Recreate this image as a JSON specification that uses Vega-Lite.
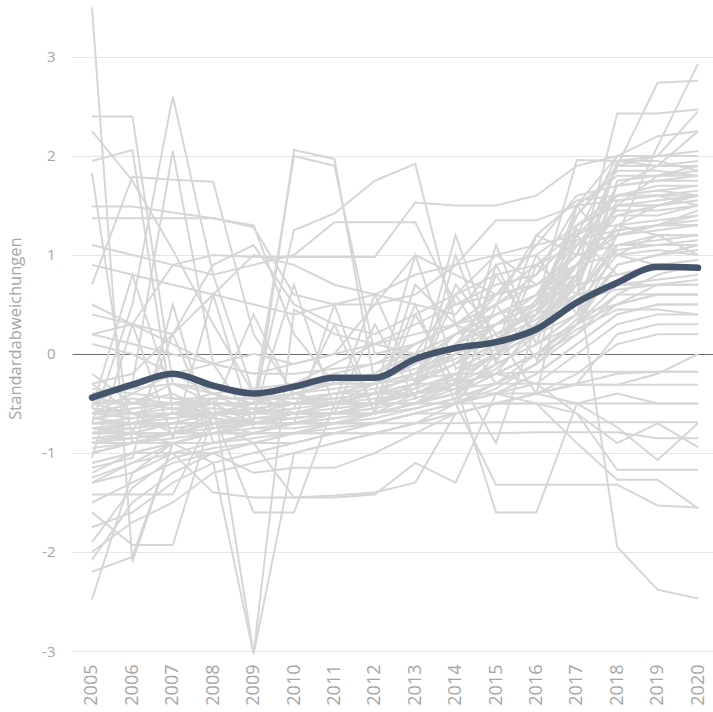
{
  "$schema": "https://vega.github.io/schema/vega-lite/v6.json",
  "width": 641,
  "height": 646,
  "autosize": {"type": "none"},
  "padding": {"left": 72, "top": 5, "right": 0, "bottom": 61},
  "background": "white",
  "config": {"view": {"stroke": null}, "font": "Open Sans"},
  "datasets": {
    "reihen": [
{"s":1,"t":2005,"v":3.5},{"s":1,"t":2006,"v":-2.1},{"s":1,"t":2007,"v":-0.9},{"s":1,"t":2008,"v":-0.8},{"s":1,"t":2009,"v":-0.7},{"s":1,"t":2010,"v":-0.6},{"s":1,"t":2011,"v":-0.5},{"s":1,"t":2012,"v":-0.5},{"s":1,"t":2013,"v":-0.3},{"s":1,"t":2014,"v":-0.1},{"s":1,"t":2015,"v":0.1},{"s":1,"t":2016,"v":0.3},{"s":1,"t":2017,"v":0.9},{"s":1,"t":2018,"v":1.5},{"s":1,"t":2019,"v":1.8},{"s":1,"t":2020,"v":1.9},
{"s":2,"t":2005,"v":2.4},{"s":2,"t":2006,"v":2.4},{"s":2,"t":2007,"v":-0.3},{"s":2,"t":2008,"v":-0.5},{"s":2,"t":2009,"v":-0.7},{"s":2,"t":2010,"v":-0.6},{"s":2,"t":2011,"v":-0.6},{"s":2,"t":2012,"v":-0.5},{"s":2,"t":2013,"v":-0.4},{"s":2,"t":2014,"v":-0.2},{"s":2,"t":2015,"v":0},{"s":2,"t":2016,"v":0.2},{"s":2,"t":2017,"v":0.6},{"s":2,"t":2018,"v":1.2},{"s":2,"t":2019,"v":1.3},{"s":2,"t":2020,"v":1.4},
{"s":3,"t":2005,"v":2.25},{"s":3,"t":2006,"v":1.75},{"s":3,"t":2007,"v":1.05},{"s":3,"t":2008,"v":0.3},{"s":3,"t":2009,"v":-0.4},{"s":3,"t":2010,"v":-0.5},{"s":3,"t":2011,"v":-0.5},{"s":3,"t":2012,"v":-0.4},{"s":3,"t":2013,"v":-0.2},{"s":3,"t":2014,"v":0},{"s":3,"t":2015,"v":0.3},{"s":3,"t":2016,"v":0.4},{"s":3,"t":2017,"v":1.1},{"s":3,"t":2018,"v":1.6},{"s":3,"t":2019,"v":1.6},{"s":3,"t":2020,"v":1.5},
{"s":4,"t":2005,"v":1.95},{"s":4,"t":2006,"v":2.06},{"s":4,"t":2007,"v":-0.6},{"s":4,"t":2008,"v":-0.7},{"s":4,"t":2009,"v":-0.8},{"s":4,"t":2010,"v":-0.7},{"s":4,"t":2011,"v":-0.6},{"s":4,"t":2012,"v":-0.6},{"s":4,"t":2013,"v":-0.5},{"s":4,"t":2014,"v":-0.4},{"s":4,"t":2015,"v":-0.1},{"s":4,"t":2016,"v":0.1},{"s":4,"t":2017,"v":0.3},{"s":4,"t":2018,"v":0.9},{"s":4,"t":2019,"v":1},{"s":4,"t":2020,"v":1.1},
{"s":5,"t":2005,"v":1.83},{"s":5,"t":2006,"v":-0.9},{"s":5,"t":2007,"v":-0.8},{"s":5,"t":2008,"v":-0.7},{"s":5,"t":2009,"v":-0.7},{"s":5,"t":2010,"v":-0.6},{"s":5,"t":2011,"v":-0.5},{"s":5,"t":2012,"v":-0.5},{"s":5,"t":2013,"v":-0.4},{"s":5,"t":2014,"v":-0.3},{"s":5,"t":2015,"v":0},{"s":5,"t":2016,"v":0.2},{"s":5,"t":2017,"v":0.4},{"s":5,"t":2018,"v":0.5},{"s":5,"t":2019,"v":0.6},{"s":5,"t":2020,"v":0.6},
{"s":6,"t":2005,"v":1.49},{"s":6,"t":2006,"v":1.49},{"s":6,"t":2007,"v":1.43},{"s":6,"t":2008,"v":1.37},{"s":6,"t":2009,"v":1.3},{"s":6,"t":2010,"v":0.2},{"s":6,"t":2011,"v":-0.3},{"s":6,"t":2012,"v":-0.2},{"s":6,"t":2013,"v":0.1},{"s":6,"t":2014,"v":0.3},{"s":6,"t":2015,"v":0.4},{"s":6,"t":2016,"v":0.5},{"s":6,"t":2017,"v":1.4},{"s":6,"t":2018,"v":1.9},{"s":6,"t":2019,"v":1.9},{"s":6,"t":2020,"v":1.9},
{"s":7,"t":2005,"v":1.37},{"s":7,"t":2006,"v":1.37},{"s":7,"t":2007,"v":1.37},{"s":7,"t":2008,"v":1.37},{"s":7,"t":2009,"v":1.28},{"s":7,"t":2010,"v":0.6},{"s":7,"t":2011,"v":0.5},{"s":7,"t":2012,"v":0.6},{"s":7,"t":2013,"v":0.8},{"s":7,"t":2014,"v":0.9},{"s":7,"t":2015,"v":1},{"s":7,"t":2016,"v":1.1},{"s":7,"t":2017,"v":1.2},{"s":7,"t":2018,"v":1.6},{"s":7,"t":2019,"v":1.7},{"s":7,"t":2020,"v":1.7},
{"s":8,"t":2005,"v":-0.7},{"s":8,"t":2006,"v":0.5},{"s":8,"t":2007,"v":2.6},{"s":8,"t":2008,"v":0.8},{"s":8,"t":2009,"v":-0.4},{"s":8,"t":2010,"v":-0.6},{"s":8,"t":2011,"v":-0.5},{"s":8,"t":2012,"v":-0.4},{"s":8,"t":2013,"v":-0.3},{"s":8,"t":2014,"v":-0.1},{"s":8,"t":2015,"v":0.3},{"s":8,"t":2016,"v":0.5},{"s":8,"t":2017,"v":0.9},{"s":8,"t":2018,"v":1.2},{"s":8,"t":2019,"v":1.3},{"s":8,"t":2020,"v":1.3},
{"s":9,"t":2005,"v":-0.5},{"s":9,"t":2006,"v":-0.3},{"s":9,"t":2007,"v":2.05},{"s":9,"t":2008,"v":-0.1},{"s":9,"t":2009,"v":-0.7},{"s":9,"t":2010,"v":-0.6},{"s":9,"t":2011,"v":-0.5},{"s":9,"t":2012,"v":-0.5},{"s":9,"t":2013,"v":-0.3},{"s":9,"t":2014,"v":0.1},{"s":9,"t":2015,"v":0.6},{"s":9,"t":2016,"v":0.7},{"s":9,"t":2017,"v":1},{"s":9,"t":2018,"v":1.9},{"s":9,"t":2019,"v":2},{"s":9,"t":2020,"v":2},
{"s":10,"t":2005,"v":0.7},{"s":10,"t":2006,"v":1.79},{"s":10,"t":2007,"v":1.76},{"s":10,"t":2008,"v":1.74},{"s":10,"t":2009,"v":0.2},{"s":10,"t":2010,"v":-0.4},{"s":10,"t":2011,"v":-0.5},{"s":10,"t":2012,"v":-0.4},{"s":10,"t":2013,"v":-0.2},{"s":10,"t":2014,"v":0.2},{"s":10,"t":2015,"v":0.4},{"s":10,"t":2016,"v":0.6},{"s":10,"t":2017,"v":1.2},{"s":10,"t":2018,"v":1.4},{"s":10,"t":2019,"v":1.4},{"s":10,"t":2020,"v":1.5},
{"s":11,"t":2005,"v":-0.8},{"s":11,"t":2006,"v":-0.7},{"s":11,"t":2007,"v":-0.6},{"s":11,"t":2008,"v":-0.5},{"s":11,"t":2009,"v":-0.7},{"s":11,"t":2010,"v":2.06},{"s":11,"t":2011,"v":1.97},{"s":11,"t":2012,"v":-0.3},{"s":11,"t":2013,"v":-0.2},{"s":11,"t":2014,"v":0},{"s":11,"t":2015,"v":0.2},{"s":11,"t":2016,"v":0.4},{"s":11,"t":2017,"v":0.8},{"s":11,"t":2018,"v":1.3},{"s":11,"t":2019,"v":1.5},{"s":11,"t":2020,"v":1.6},
{"s":12,"t":2005,"v":-0.6},{"s":12,"t":2006,"v":-0.5},{"s":12,"t":2007,"v":-0.4},{"s":12,"t":2008,"v":-0.6},{"s":12,"t":2009,"v":-0.5},{"s":12,"t":2010,"v":2},{"s":12,"t":2011,"v":1.9},{"s":12,"t":2012,"v":0},{"s":12,"t":2013,"v":0.1},{"s":12,"t":2014,"v":0.3},{"s":12,"t":2015,"v":0.5},{"s":12,"t":2016,"v":0.7},{"s":12,"t":2017,"v":1},{"s":12,"t":2018,"v":1.9},{"s":12,"t":2019,"v":1.9},{"s":12,"t":2020,"v":2.25},
{"s":13,"t":2005,"v":-0.6},{"s":13,"t":2006,"v":-0.5},{"s":13,"t":2007,"v":-0.5},{"s":13,"t":2008,"v":-0.6},{"s":13,"t":2009,"v":-0.5},{"s":13,"t":2010,"v":1.25},{"s":13,"t":2011,"v":1.42},{"s":13,"t":2012,"v":1.75},{"s":13,"t":2013,"v":1.92},{"s":13,"t":2014,"v":0.3},{"s":13,"t":2015,"v":0.1},{"s":13,"t":2016,"v":0.5},{"s":13,"t":2017,"v":1.3},{"s":13,"t":2018,"v":1.5},{"s":13,"t":2019,"v":1.5},{"s":13,"t":2020,"v":1.6},
{"s":14,"t":2005,"v":1.1},{"s":14,"t":2006,"v":1},{"s":14,"t":2007,"v":0.9},{"s":14,"t":2008,"v":0.8},{"s":14,"t":2009,"v":0.9},{"s":14,"t":2010,"v":1},{"s":14,"t":2011,"v":1.33},{"s":14,"t":2012,"v":1.33},{"s":14,"t":2013,"v":1.33},{"s":14,"t":2014,"v":0.5},{"s":14,"t":2015,"v":0.7},{"s":14,"t":2016,"v":0.8},{"s":14,"t":2017,"v":1.5},{"s":14,"t":2018,"v":1.8},{"s":14,"t":2019,"v":1.8},{"s":14,"t":2020,"v":1.8},
{"s":15,"t":2005,"v":0.2},{"s":15,"t":2006,"v":0.3},{"s":15,"t":2007,"v":0.9},{"s":15,"t":2008,"v":1},{"s":15,"t":2009,"v":0.98},{"s":15,"t":2010,"v":0.98},{"s":15,"t":2011,"v":0.98},{"s":15,"t":2012,"v":0.98},{"s":15,"t":2013,"v":1.53},{"s":15,"t":2014,"v":1.5},{"s":15,"t":2015,"v":1.5},{"s":15,"t":2016,"v":1.6},{"s":15,"t":2017,"v":1.9},{"s":15,"t":2018,"v":2},{"s":15,"t":2019,"v":2},{"s":15,"t":2020,"v":2},
{"s":16,"t":2005,"v":0.9},{"s":16,"t":2006,"v":0.8},{"s":16,"t":2007,"v":0.7},{"s":16,"t":2008,"v":0.6},{"s":16,"t":2009,"v":0.5},{"s":16,"t":2010,"v":0.4},{"s":16,"t":2011,"v":0.5},{"s":16,"t":2012,"v":0.5},{"s":16,"t":2013,"v":0.6},{"s":16,"t":2014,"v":0.9},{"s":16,"t":2015,"v":1.35},{"s":16,"t":2016,"v":1.35},{"s":16,"t":2017,"v":1.5},{"s":16,"t":2018,"v":1.55},{"s":16,"t":2019,"v":1.6},{"s":16,"t":2020,"v":1.6},
{"s":17,"t":2005,"v":-0.9},{"s":17,"t":2006,"v":-0.8},{"s":17,"t":2007,"v":-0.8},{"s":17,"t":2008,"v":-0.7},{"s":17,"t":2009,"v":-0.7},{"s":17,"t":2010,"v":-0.6},{"s":17,"t":2011,"v":-0.5},{"s":17,"t":2012,"v":-0.4},{"s":17,"t":2013,"v":-0.2},{"s":17,"t":2014,"v":0},{"s":17,"t":2015,"v":0.2},{"s":17,"t":2016,"v":0.4},{"s":17,"t":2017,"v":0.9},{"s":17,"t":2018,"v":1.2},{"s":17,"t":2019,"v":2.1},{"s":17,"t":2020,"v":2.93},
{"s":18,"t":2005,"v":-1},{"s":18,"t":2006,"v":-0.9},{"s":18,"t":2007,"v":-0.8},{"s":18,"t":2008,"v":-0.8},{"s":18,"t":2009,"v":-0.7},{"s":18,"t":2010,"v":-0.6},{"s":18,"t":2011,"v":-0.6},{"s":18,"t":2012,"v":-0.5},{"s":18,"t":2013,"v":-0.3},{"s":18,"t":2014,"v":0.1},{"s":18,"t":2015,"v":0.4},{"s":18,"t":2016,"v":0.6},{"s":18,"t":2017,"v":1},{"s":18,"t":2018,"v":1.9},{"s":18,"t":2019,"v":2.74},{"s":18,"t":2020,"v":2.76},
{"s":19,"t":2005,"v":-0.8},{"s":19,"t":2006,"v":-0.7},{"s":19,"t":2007,"v":-0.7},{"s":19,"t":2008,"v":-0.6},{"s":19,"t":2009,"v":-0.6},{"s":19,"t":2010,"v":-0.5},{"s":19,"t":2011,"v":-0.5},{"s":19,"t":2012,"v":-0.4},{"s":19,"t":2013,"v":-0.2},{"s":19,"t":2014,"v":0.1},{"s":19,"t":2015,"v":0.3},{"s":19,"t":2016,"v":0.6},{"s":19,"t":2017,"v":0.8},{"s":19,"t":2018,"v":2.43},{"s":19,"t":2019,"v":2.43},{"s":19,"t":2020,"v":2.47},
{"s":20,"t":2005,"v":-1.2},{"s":20,"t":2006,"v":-1},{"s":20,"t":2007,"v":-0.9},{"s":20,"t":2008,"v":-0.9},{"s":20,"t":2009,"v":-0.8},{"s":20,"t":2010,"v":-0.7},{"s":20,"t":2011,"v":-0.6},{"s":20,"t":2012,"v":-0.5},{"s":20,"t":2013,"v":-0.3},{"s":20,"t":2014,"v":0},{"s":20,"t":2015,"v":0.3},{"s":20,"t":2016,"v":0.5},{"s":20,"t":2017,"v":1.96},{"s":20,"t":2018,"v":1.95},{"s":20,"t":2019,"v":1.9},{"s":20,"t":2020,"v":1.9},
{"s":21,"t":2005,"v":-0.7},{"s":21,"t":2006,"v":-0.7},{"s":21,"t":2007,"v":-0.6},{"s":21,"t":2008,"v":-0.6},{"s":21,"t":2009,"v":-0.5},{"s":21,"t":2010,"v":-0.5},{"s":21,"t":2011,"v":-0.4},{"s":21,"t":2012,"v":-0.3},{"s":21,"t":2013,"v":-0.1},{"s":21,"t":2014,"v":0.2},{"s":21,"t":2015,"v":0.5},{"s":21,"t":2016,"v":0.8},{"s":21,"t":2017,"v":1.2},{"s":21,"t":2018,"v":2},{"s":21,"t":2019,"v":2},{"s":21,"t":2020,"v":2.45},
{"s":22,"t":2005,"v":-1.3},{"s":22,"t":2006,"v":-1.1},{"s":22,"t":2007,"v":-0.9},{"s":22,"t":2008,"v":-0.9},{"s":22,"t":2009,"v":-0.8},{"s":22,"t":2010,"v":-0.8},{"s":22,"t":2011,"v":-0.7},{"s":22,"t":2012,"v":-0.6},{"s":22,"t":2013,"v":-0.5},{"s":22,"t":2014,"v":-0.2},{"s":22,"t":2015,"v":0},{"s":22,"t":2016,"v":0.4},{"s":22,"t":2017,"v":1.5},{"s":22,"t":2018,"v":2},{"s":22,"t":2019,"v":2.2},{"s":22,"t":2020,"v":2.25},
{"s":23,"t":2005,"v":-0.9},{"s":23,"t":2006,"v":-0.9},{"s":23,"t":2007,"v":-0.8},{"s":23,"t":2008,"v":-0.7},{"s":23,"t":2009,"v":-0.6},{"s":23,"t":2010,"v":-0.6},{"s":23,"t":2011,"v":-0.5},{"s":23,"t":2012,"v":-0.4},{"s":23,"t":2013,"v":-0.4},{"s":23,"t":2014,"v":-0.2},{"s":23,"t":2015,"v":0.1},{"s":23,"t":2016,"v":0.2},{"s":23,"t":2017,"v":0.6},{"s":23,"t":2018,"v":1.95},{"s":23,"t":2019,"v":1.95},{"s":23,"t":2020,"v":1.85},
{"s":24,"t":2005,"v":-1.1},{"s":24,"t":2006,"v":-1},{"s":24,"t":2007,"v":-1},{"s":24,"t":2008,"v":-0.9},{"s":24,"t":2009,"v":-0.8},{"s":24,"t":2010,"v":-0.7},{"s":24,"t":2011,"v":-0.7},{"s":24,"t":2012,"v":-0.6},{"s":24,"t":2013,"v":-0.4},{"s":24,"t":2014,"v":-0.3},{"s":24,"t":2015,"v":0},{"s":24,"t":2016,"v":0.3},{"s":24,"t":2017,"v":0.7},{"s":24,"t":2018,"v":1.7},{"s":24,"t":2019,"v":1.75},{"s":24,"t":2020,"v":1.75},
{"s":25,"t":2005,"v":-0.5},{"s":25,"t":2006,"v":-0.6},{"s":25,"t":2007,"v":-0.6},{"s":25,"t":2008,"v":-0.5},{"s":25,"t":2009,"v":-0.5},{"s":25,"t":2010,"v":-0.4},{"s":25,"t":2011,"v":-0.3},{"s":25,"t":2012,"v":-0.3},{"s":25,"t":2013,"v":-0.1},{"s":25,"t":2014,"v":0.1},{"s":25,"t":2015,"v":0.3},{"s":25,"t":2016,"v":0.5},{"s":25,"t":2017,"v":1.1},{"s":25,"t":2018,"v":1.45},{"s":25,"t":2019,"v":1.45},{"s":25,"t":2020,"v":1.5},
{"s":26,"t":2005,"v":-1.5},{"s":26,"t":2006,"v":-1.3},{"s":26,"t":2007,"v":-1.1},{"s":26,"t":2008,"v":-1},{"s":26,"t":2009,"v":-0.9},{"s":26,"t":2010,"v":-0.8},{"s":26,"t":2011,"v":-0.7},{"s":26,"t":2012,"v":-0.6},{"s":26,"t":2013,"v":-0.5},{"s":26,"t":2014,"v":-0.3},{"s":26,"t":2015,"v":0},{"s":26,"t":2016,"v":0.2},{"s":26,"t":2017,"v":0.5},{"s":26,"t":2018,"v":1},{"s":26,"t":2019,"v":1.2},{"s":26,"t":2020,"v":1.2},
{"s":27,"t":2005,"v":-2.48},{"s":27,"t":2006,"v":-1.2},{"s":27,"t":2007,"v":-0.9},{"s":27,"t":2008,"v":-0.8},{"s":27,"t":2009,"v":-0.8},{"s":27,"t":2010,"v":-0.7},{"s":27,"t":2011,"v":-0.7},{"s":27,"t":2012,"v":-0.6},{"s":27,"t":2013,"v":-0.5},{"s":27,"t":2014,"v":-0.4},{"s":27,"t":2015,"v":-0.2},{"s":27,"t":2016,"v":0},{"s":27,"t":2017,"v":0.3},{"s":27,"t":2018,"v":0.5},{"s":27,"t":2019,"v":0.7},{"s":27,"t":2020,"v":0.7},
{"s":28,"t":2005,"v":-2.2},{"s":28,"t":2006,"v":-2.05},{"s":28,"t":2007,"v":-0.9},{"s":28,"t":2008,"v":-0.8},{"s":28,"t":2009,"v":-0.7},{"s":28,"t":2010,"v":-0.7},{"s":28,"t":2011,"v":-0.6},{"s":28,"t":2012,"v":-0.6},{"s":28,"t":2013,"v":-0.5},{"s":28,"t":2014,"v":-0.3},{"s":28,"t":2015,"v":-0.1},{"s":28,"t":2016,"v":0.1},{"s":28,"t":2017,"v":0.4},{"s":28,"t":2018,"v":0.9},{"s":28,"t":2019,"v":1},{"s":28,"t":2020,"v":1.1},
{"s":29,"t":2005,"v":-1.6},{"s":29,"t":2006,"v":-1.93},{"s":29,"t":2007,"v":-1.93},{"s":29,"t":2008,"v":-0.6},{"s":29,"t":2009,"v":-0.7},{"s":29,"t":2010,"v":-0.7},{"s":29,"t":2011,"v":-0.6},{"s":29,"t":2012,"v":-0.5},{"s":29,"t":2013,"v":-0.4},{"s":29,"t":2014,"v":-0.3},{"s":29,"t":2015,"v":-0.2},{"s":29,"t":2016,"v":0},{"s":29,"t":2017,"v":0.2},{"s":29,"t":2018,"v":0.5},{"s":29,"t":2019,"v":0.6},{"s":29,"t":2020,"v":0.6},
{"s":30,"t":2005,"v":-2.08},{"s":30,"t":2006,"v":-1.5},{"s":30,"t":2007,"v":-1.2},{"s":30,"t":2008,"v":-1},{"s":30,"t":2009,"v":-0.9},{"s":30,"t":2010,"v":-0.9},{"s":30,"t":2011,"v":-0.8},{"s":30,"t":2012,"v":-0.7},{"s":30,"t":2013,"v":-0.6},{"s":30,"t":2014,"v":-0.5},{"s":30,"t":2015,"v":-0.3},{"s":30,"t":2016,"v":-0.1},{"s":30,"t":2017,"v":0.2},{"s":30,"t":2018,"v":0.6},{"s":30,"t":2019,"v":0.8},{"s":30,"t":2020,"v":0.9},
{"s":31,"t":2005,"v":-1.9},{"s":31,"t":2006,"v":-1.35},{"s":31,"t":2007,"v":-1.05},{"s":31,"t":2008,"v":-0.95},{"s":31,"t":2009,"v":-0.9},{"s":31,"t":2010,"v":-0.8},{"s":31,"t":2011,"v":-0.8},{"s":31,"t":2012,"v":-0.7},{"s":31,"t":2013,"v":-0.6},{"s":31,"t":2014,"v":-0.5},{"s":31,"t":2015,"v":-0.4},{"s":31,"t":2016,"v":-0.2},{"s":31,"t":2017,"v":0.1},{"s":31,"t":2018,"v":0.4},{"s":31,"t":2019,"v":0.5},{"s":31,"t":2020,"v":0.5},
{"s":32,"t":2005,"v":-1.42},{"s":32,"t":2006,"v":-1.42},{"s":32,"t":2007,"v":-1.42},{"s":32,"t":2008,"v":-0.6},{"s":32,"t":2009,"v":-0.7},{"s":32,"t":2010,"v":-0.6},{"s":32,"t":2011,"v":-0.6},{"s":32,"t":2012,"v":-0.5},{"s":32,"t":2013,"v":-0.4},{"s":32,"t":2014,"v":-0.3},{"s":32,"t":2015,"v":-0.2},{"s":32,"t":2016,"v":0},{"s":32,"t":2017,"v":0.3},{"s":32,"t":2018,"v":0.7},{"s":32,"t":2019,"v":0.7},{"s":32,"t":2020,"v":0.7},
{"s":33,"t":2005,"v":-1.75},{"s":33,"t":2006,"v":-1.6},{"s":33,"t":2007,"v":-1.3},{"s":33,"t":2008,"v":-1.1},{"s":33,"t":2009,"v":-1},{"s":33,"t":2010,"v":-0.9},{"s":33,"t":2011,"v":-0.8},{"s":33,"t":2012,"v":-0.8},{"s":33,"t":2013,"v":-0.7},{"s":33,"t":2014,"v":-0.5},{"s":33,"t":2015,"v":-0.4},{"s":33,"t":2016,"v":-0.3},{"s":33,"t":2017,"v":0},{"s":33,"t":2018,"v":0.3},{"s":33,"t":2019,"v":0.4},{"s":33,"t":2020,"v":0.4},
{"s":34,"t":2005,"v":-1.25},{"s":34,"t":2006,"v":-1.1},{"s":34,"t":2007,"v":-1},{"s":34,"t":2008,"v":-1},{"s":34,"t":2009,"v":-1.2},{"s":34,"t":2010,"v":-1.15},{"s":34,"t":2011,"v":-1.15},{"s":34,"t":2012,"v":-1},{"s":34,"t":2013,"v":-0.8},{"s":34,"t":2014,"v":-0.6},{"s":34,"t":2015,"v":-0.5},{"s":34,"t":2016,"v":-0.4},{"s":34,"t":2017,"v":-0.3},{"s":34,"t":2018,"v":-0.2},{"s":34,"t":2019,"v":-0.18},{"s":34,"t":2020,"v":-0.18},
{"s":35,"t":2005,"v":-1.3},{"s":35,"t":2006,"v":-1.2},{"s":35,"t":2007,"v":-1},{"s":35,"t":2008,"v":-1.4},{"s":35,"t":2009,"v":-1.45},{"s":35,"t":2010,"v":-1.45},{"s":35,"t":2011,"v":-1.43},{"s":35,"t":2012,"v":-1.4},{"s":35,"t":2013,"v":-1.3},{"s":35,"t":2014,"v":-0.6},{"s":35,"t":2015,"v":-0.5},{"s":35,"t":2016,"v":-0.4},{"s":35,"t":2017,"v":-0.2},{"s":35,"t":2018,"v":0.1},{"s":35,"t":2019,"v":0.2},{"s":35,"t":2020,"v":0.2},
{"s":36,"t":2005,"v":-2},{"s":36,"t":2006,"v":-1.7},{"s":36,"t":2007,"v":-1.5},{"s":36,"t":2008,"v":-1.2},{"s":36,"t":2009,"v":-1.1},{"s":36,"t":2010,"v":-1},{"s":36,"t":2011,"v":-0.9},{"s":36,"t":2012,"v":-0.8},{"s":36,"t":2013,"v":-0.7},{"s":36,"t":2014,"v":-0.6},{"s":36,"t":2015,"v":-0.5},{"s":36,"t":2016,"v":-0.4},{"s":36,"t":2017,"v":-0.31},{"s":36,"t":2018,"v":-0.31},{"s":36,"t":2019,"v":-0.31},{"s":36,"t":2020,"v":-0.31},
{"s":37,"t":2005,"v":-0.8},{"s":37,"t":2006,"v":-0.7},{"s":37,"t":2007,"v":-0.6},{"s":37,"t":2008,"v":-0.45},{"s":37,"t":2009,"v":-3.03},{"s":37,"t":2010,"v":-1},{"s":37,"t":2011,"v":-0.9},{"s":37,"t":2012,"v":-0.8},{"s":37,"t":2013,"v":-0.7},{"s":37,"t":2014,"v":-0.6},{"s":37,"t":2015,"v":-0.5},{"s":37,"t":2016,"v":-0.4},{"s":37,"t":2017,"v":-0.3},{"s":37,"t":2018,"v":0.2},{"s":37,"t":2019,"v":0.3},{"s":37,"t":2020,"v":0.3},
{"s":38,"t":2005,"v":-0.9},{"s":38,"t":2006,"v":-0.8},{"s":38,"t":2007,"v":-0.9},{"s":38,"t":2008,"v":-1.1},{"s":38,"t":2009,"v":-3.03},{"s":38,"t":2010,"v":0.45},{"s":38,"t":2011,"v":0.2},{"s":38,"t":2012,"v":0.1},{"s":38,"t":2013,"v":0},{"s":38,"t":2014,"v":0.2},{"s":38,"t":2015,"v":0.3},{"s":38,"t":2016,"v":0.4},{"s":38,"t":2017,"v":0.6},{"s":38,"t":2018,"v":1.1},{"s":38,"t":2019,"v":1.2},{"s":38,"t":2020,"v":1.2},
{"s":39,"t":2005,"v":-1},{"s":39,"t":2006,"v":-0.9},{"s":39,"t":2007,"v":-0.8},{"s":39,"t":2008,"v":-0.6},{"s":39,"t":2009,"v":-1.6},{"s":39,"t":2010,"v":-1.6},{"s":39,"t":2011,"v":-0.5},{"s":39,"t":2012,"v":-0.5},{"s":39,"t":2013,"v":-0.4},{"s":39,"t":2014,"v":-0.3},{"s":39,"t":2015,"v":-0.2},{"s":39,"t":2016,"v":0},{"s":39,"t":2017,"v":0.3},{"s":39,"t":2018,"v":0.6},{"s":39,"t":2019,"v":0.6},{"s":39,"t":2020,"v":0.6},
{"s":40,"t":2005,"v":-0.9},{"s":40,"t":2006,"v":-0.8},{"s":40,"t":2007,"v":-0.8},{"s":40,"t":2008,"v":-0.7},{"s":40,"t":2009,"v":-0.9},{"s":40,"t":2010,"v":-1.45},{"s":40,"t":2011,"v":-1.45},{"s":40,"t":2012,"v":-1.42},{"s":40,"t":2013,"v":-1.1},{"s":40,"t":2014,"v":-1.3},{"s":40,"t":2015,"v":-0.4},{"s":40,"t":2016,"v":-0.2},{"s":40,"t":2017,"v":0.1},{"s":40,"t":2018,"v":0.4},{"s":40,"t":2019,"v":0.5},{"s":40,"t":2020,"v":0.5},
{"s":41,"t":2005,"v":-0.7},{"s":41,"t":2006,"v":-0.7},{"s":41,"t":2007,"v":-0.6},{"s":41,"t":2008,"v":-0.6},{"s":41,"t":2009,"v":-0.6},{"s":41,"t":2010,"v":-0.5},{"s":41,"t":2011,"v":-0.5},{"s":41,"t":2012,"v":-0.4},{"s":41,"t":2013,"v":-0.4},{"s":41,"t":2014,"v":-0.3},{"s":41,"t":2015,"v":-1.6},{"s":41,"t":2016,"v":-1.6},{"s":41,"t":2017,"v":-0.5},{"s":41,"t":2018,"v":-0.4},{"s":41,"t":2019,"v":-0.5},{"s":41,"t":2020,"v":-0.5},
{"s":42,"t":2005,"v":-1.1},{"s":42,"t":2006,"v":-1},{"s":42,"t":2007,"v":-0.9},{"s":42,"t":2008,"v":-0.9},{"s":42,"t":2009,"v":-0.8},{"s":42,"t":2010,"v":-0.8},{"s":42,"t":2011,"v":-0.7},{"s":42,"t":2012,"v":-0.7},{"s":42,"t":2013,"v":-0.6},{"s":42,"t":2014,"v":-0.5},{"s":42,"t":2015,"v":-1.32},{"s":42,"t":2016,"v":-1.32},{"s":42,"t":2017,"v":-1.32},{"s":42,"t":2018,"v":-1.32},{"s":42,"t":2019,"v":-1.53},{"s":42,"t":2020,"v":-1.55},
{"s":43,"t":2005,"v":-0.8},{"s":43,"t":2006,"v":-0.8},{"s":43,"t":2007,"v":-0.7},{"s":43,"t":2008,"v":-0.7},{"s":43,"t":2009,"v":-0.7},{"s":43,"t":2010,"v":-0.6},{"s":43,"t":2011,"v":-0.6},{"s":43,"t":2012,"v":-0.5},{"s":43,"t":2013,"v":-0.5},{"s":43,"t":2014,"v":-0.4},{"s":43,"t":2015,"v":-0.2},{"s":43,"t":2016,"v":0.3},{"s":43,"t":2017,"v":0.8},{"s":43,"t":2018,"v":-1.95},{"s":43,"t":2019,"v":-2.38},{"s":43,"t":2020,"v":-2.47},
{"s":44,"t":2005,"v":-1},{"s":44,"t":2006,"v":-0.9},{"s":44,"t":2007,"v":-0.9},{"s":44,"t":2008,"v":-0.8},{"s":44,"t":2009,"v":-0.8},{"s":44,"t":2010,"v":-0.7},{"s":44,"t":2011,"v":-0.7},{"s":44,"t":2012,"v":-0.7},{"s":44,"t":2013,"v":-0.6},{"s":44,"t":2014,"v":-0.6},{"s":44,"t":2015,"v":-0.5},{"s":44,"t":2016,"v":-0.5},{"s":44,"t":2017,"v":-0.9},{"s":44,"t":2018,"v":-1.27},{"s":44,"t":2019,"v":-1.27},{"s":44,"t":2020,"v":-1.56},
{"s":45,"t":2005,"v":-0.6},{"s":45,"t":2006,"v":-0.6},{"s":45,"t":2007,"v":-0.5},{"s":45,"t":2008,"v":-0.5},{"s":45,"t":2009,"v":-0.5},{"s":45,"t":2010,"v":-0.5},{"s":45,"t":2011,"v":-0.4},{"s":45,"t":2012,"v":-0.4},{"s":45,"t":2013,"v":-0.3},{"s":45,"t":2014,"v":-0.3},{"s":45,"t":2015,"v":-0.2},{"s":45,"t":2016,"v":-0.3},{"s":45,"t":2017,"v":-0.6},{"s":45,"t":2018,"v":-1.17},{"s":45,"t":2019,"v":-1.17},{"s":45,"t":2020,"v":-1.17},
{"s":46,"t":2005,"v":-0.7},{"s":46,"t":2006,"v":-0.7},{"s":46,"t":2007,"v":-0.7},{"s":46,"t":2008,"v":-0.6},{"s":46,"t":2009,"v":-0.6},{"s":46,"t":2010,"v":-0.6},{"s":46,"t":2011,"v":-0.5},{"s":46,"t":2012,"v":-0.5},{"s":46,"t":2013,"v":-0.5},{"s":46,"t":2014,"v":-0.4},{"s":46,"t":2015,"v":-0.4},{"s":46,"t":2016,"v":-0.5},{"s":46,"t":2017,"v":-0.6},{"s":46,"t":2018,"v":-0.9},{"s":46,"t":2019,"v":-0.7},{"s":46,"t":2020,"v":-0.94},
{"s":47,"t":2005,"v":-0.8},{"s":47,"t":2006,"v":-0.8},{"s":47,"t":2007,"v":-0.7},{"s":47,"t":2008,"v":-0.7},{"s":47,"t":2009,"v":-0.7},{"s":47,"t":2010,"v":-0.6},{"s":47,"t":2011,"v":-0.6},{"s":47,"t":2012,"v":-0.6},{"s":47,"t":2013,"v":-0.5},{"s":47,"t":2014,"v":-0.5},{"s":47,"t":2015,"v":-0.4},{"s":47,"t":2016,"v":-0.4},{"s":47,"t":2017,"v":-0.5},{"s":47,"t":2018,"v":-0.74},{"s":47,"t":2019,"v":-1.07},{"s":47,"t":2020,"v":-0.7},
{"s":48,"t":2005,"v":-0.5},{"s":48,"t":2006,"v":-0.5},{"s":48,"t":2007,"v":-0.5},{"s":48,"t":2008,"v":-0.5},{"s":48,"t":2009,"v":-0.5},{"s":48,"t":2010,"v":-0.5},{"s":48,"t":2011,"v":-0.5},{"s":48,"t":2012,"v":-0.5},{"s":48,"t":2013,"v":-0.5},{"s":48,"t":2014,"v":-0.5},{"s":48,"t":2015,"v":-0.5},{"s":48,"t":2016,"v":-0.5},{"s":48,"t":2017,"v":-0.5},{"s":48,"t":2018,"v":-0.5},{"s":48,"t":2019,"v":-0.5},{"s":48,"t":2020,"v":-0.5},
{"s":49,"t":2005,"v":-0.7},{"s":49,"t":2006,"v":-0.7},{"s":49,"t":2007,"v":-0.7},{"s":49,"t":2008,"v":-0.7},{"s":49,"t":2009,"v":-0.7},{"s":49,"t":2010,"v":-0.7},{"s":49,"t":2011,"v":-0.7},{"s":49,"t":2012,"v":-0.7},{"s":49,"t":2013,"v":-0.7},{"s":49,"t":2014,"v":-0.7},{"s":49,"t":2015,"v":-0.69},{"s":49,"t":2016,"v":-0.69},{"s":49,"t":2017,"v":-0.69},{"s":49,"t":2018,"v":-0.69},{"s":49,"t":2019,"v":-0.69},{"s":49,"t":2020,"v":-0.69},
{"s":50,"t":2005,"v":-0.85},{"s":50,"t":2006,"v":-0.85},{"s":50,"t":2007,"v":-0.8},{"s":50,"t":2008,"v":-0.8},{"s":50,"t":2009,"v":-0.8},{"s":50,"t":2010,"v":-0.8},{"s":50,"t":2011,"v":-0.8},{"s":50,"t":2012,"v":-0.8},{"s":50,"t":2013,"v":-0.8},{"s":50,"t":2014,"v":-0.8},{"s":50,"t":2015,"v":-0.8},{"s":50,"t":2016,"v":-0.79},{"s":50,"t":2017,"v":-0.79},{"s":50,"t":2018,"v":-0.79},{"s":50,"t":2019,"v":-0.85},{"s":50,"t":2020,"v":-0.85},
{"s":51,"t":2005,"v":-0.6},{"s":51,"t":2006,"v":-0.55},{"s":51,"t":2007,"v":-0.5},{"s":51,"t":2008,"v":-0.4},{"s":51,"t":2009,"v":-0.35},{"s":51,"t":2010,"v":-0.3},{"s":51,"t":2011,"v":-0.3},{"s":51,"t":2012,"v":-0.3},{"s":51,"t":2013,"v":-0.25},{"s":51,"t":2014,"v":-0.2},{"s":51,"t":2015,"v":-0.2},{"s":51,"t":2016,"v":-0.18},{"s":51,"t":2017,"v":-0.18},{"s":51,"t":2018,"v":-0.18},{"s":51,"t":2019,"v":-0.18},{"s":51,"t":2020,"v":-0.18},
{"s":52,"t":2005,"v":-0.75},{"s":52,"t":2006,"v":-0.7},{"s":52,"t":2007,"v":-0.65},{"s":52,"t":2008,"v":-0.6},{"s":52,"t":2009,"v":-0.55},{"s":52,"t":2010,"v":-0.5},{"s":52,"t":2011,"v":-0.5},{"s":52,"t":2012,"v":-0.45},{"s":52,"t":2013,"v":-0.4},{"s":52,"t":2014,"v":-0.35},{"s":52,"t":2015,"v":-0.3},{"s":52,"t":2016,"v":-0.3},{"s":52,"t":2017,"v":-0.31},{"s":52,"t":2018,"v":-0.31},{"s":52,"t":2019,"v":-0.2},{"s":52,"t":2020,"v":0},
{"s":53,"t":2005,"v":0.2},{"s":53,"t":2006,"v":0.1},{"s":53,"t":2007,"v":0},{"s":53,"t":2008,"v":-0.1},{"s":53,"t":2009,"v":-0.2},{"s":53,"t":2010,"v":-0.1},{"s":53,"t":2011,"v":0},{"s":53,"t":2012,"v":0.1},{"s":53,"t":2013,"v":0.3},{"s":53,"t":2014,"v":0.5},{"s":53,"t":2015,"v":0.6},{"s":53,"t":2016,"v":0.7},{"s":53,"t":2017,"v":1},{"s":53,"t":2018,"v":1.1},{"s":53,"t":2019,"v":1.1},{"s":53,"t":2020,"v":1.15},
{"s":54,"t":2005,"v":0.5},{"s":54,"t":2006,"v":0.3},{"s":54,"t":2007,"v":0.2},{"s":54,"t":2008,"v":0.6},{"s":54,"t":2009,"v":1},{"s":54,"t":2010,"v":0.9},{"s":54,"t":2011,"v":0.7},{"s":54,"t":2012,"v":0.6},{"s":54,"t":2013,"v":0.5},{"s":54,"t":2014,"v":0.4},{"s":54,"t":2015,"v":0.9},{"s":54,"t":2016,"v":1},{"s":54,"t":2017,"v":1.3},{"s":54,"t":2018,"v":1.5},{"s":54,"t":2019,"v":1.5},{"s":54,"t":2020,"v":1.55},
{"s":55,"t":2005,"v":-0.3},{"s":55,"t":2006,"v":-0.2},{"s":55,"t":2007,"v":0.2},{"s":55,"t":2008,"v":0.9},{"s":55,"t":2009,"v":1.1},{"s":55,"t":2010,"v":0.5},{"s":55,"t":2011,"v":0.3},{"s":55,"t":2012,"v":0.2},{"s":55,"t":2013,"v":0.4},{"s":55,"t":2014,"v":0.6},{"s":55,"t":2015,"v":0.8},{"s":55,"t":2016,"v":0.9},{"s":55,"t":2017,"v":1.1},{"s":55,"t":2018,"v":1.2},{"s":55,"t":2019,"v":1.3},{"s":55,"t":2020,"v":1.3},
{"s":56,"t":2005,"v":-0.4},{"s":56,"t":2006,"v":-0.3},{"s":56,"t":2007,"v":-0.2},{"s":56,"t":2008,"v":-0.1},{"s":56,"t":2009,"v":0},{"s":56,"t":2010,"v":-0.1},{"s":56,"t":2011,"v":0},{"s":56,"t":2012,"v":0.5},{"s":56,"t":2013,"v":1},{"s":56,"t":2014,"v":0.8},{"s":56,"t":2015,"v":0.6},{"s":56,"t":2016,"v":1.1},{"s":56,"t":2017,"v":1.6},{"s":56,"t":2018,"v":1.7},{"s":56,"t":2019,"v":1.75},{"s":56,"t":2020,"v":1.8},
{"s":57,"t":2005,"v":-0.2},{"s":57,"t":2006,"v":-0.5},{"s":57,"t":2007,"v":-0.3},{"s":57,"t":2008,"v":-0.4},{"s":57,"t":2009,"v":-0.6},{"s":57,"t":2010,"v":-0.4},{"s":57,"t":2011,"v":-0.3},{"s":57,"t":2012,"v":-0.2},{"s":57,"t":2013,"v":0},{"s":57,"t":2014,"v":0.6},{"s":57,"t":2015,"v":1},{"s":57,"t":2016,"v":0.7},{"s":57,"t":2017,"v":0.9},{"s":57,"t":2018,"v":1},{"s":57,"t":2019,"v":0.9},{"s":57,"t":2020,"v":0.9},
{"s":58,"t":2005,"v":0.1},{"s":58,"t":2006,"v":0},{"s":58,"t":2007,"v":-0.2},{"s":58,"t":2008,"v":-0.4},{"s":58,"t":2009,"v":-0.5},{"s":58,"t":2010,"v":-0.3},{"s":58,"t":2011,"v":-0.1},{"s":58,"t":2012,"v":0.1},{"s":58,"t":2013,"v":0.2},{"s":58,"t":2014,"v":0.3},{"s":58,"t":2015,"v":0.5},{"s":58,"t":2016,"v":1.2},{"s":58,"t":2017,"v":1.55},{"s":58,"t":2018,"v":1.6},{"s":58,"t":2019,"v":1.65},{"s":58,"t":2020,"v":1.6},
{"s":59,"t":2005,"v":-0.6},{"s":59,"t":2006,"v":-0.4},{"s":59,"t":2007,"v":-0.2},{"s":59,"t":2008,"v":-0.3},{"s":59,"t":2009,"v":-0.4},{"s":59,"t":2010,"v":-0.3},{"s":59,"t":2011,"v":-0.2},{"s":59,"t":2012,"v":-0.1},{"s":59,"t":2013,"v":0.1},{"s":59,"t":2014,"v":0.3},{"s":59,"t":2015,"v":0.6},{"s":59,"t":2016,"v":0.9},{"s":59,"t":2017,"v":1.25},{"s":59,"t":2018,"v":1.3},{"s":59,"t":2019,"v":1.2},{"s":59,"t":2020,"v":1},
{"s":60,"t":2005,"v":-0.3},{"s":60,"t":2006,"v":-0.6},{"s":60,"t":2007,"v":-0.8},{"s":60,"t":2008,"v":-0.8},{"s":60,"t":2009,"v":-0.7},{"s":60,"t":2010,"v":-0.6},{"s":60,"t":2011,"v":-0.5},{"s":60,"t":2012,"v":-0.3},{"s":60,"t":2013,"v":-0.1},{"s":60,"t":2014,"v":0.1},{"s":60,"t":2015,"v":0.3},{"s":60,"t":2016,"v":0.5},{"s":60,"t":2017,"v":0.7},{"s":60,"t":2018,"v":0.8},{"s":60,"t":2019,"v":0.9},{"s":60,"t":2020,"v":0.95},
{"s":61,"t":2005,"v":-0.55},{"s":61,"t":2006,"v":-0.6},{"s":61,"t":2007,"v":-0.65},{"s":61,"t":2008,"v":-0.6},{"s":61,"t":2009,"v":-0.6},{"s":61,"t":2010,"v":-0.55},{"s":61,"t":2011,"v":0.3},{"s":61,"t":2012,"v":-0.6},{"s":61,"t":2013,"v":0.4},{"s":61,"t":2014,"v":-0.3},{"s":61,"t":2015,"v":0.8},{"s":61,"t":2016,"v":0.2},{"s":61,"t":2017,"v":0.8},{"s":61,"t":2018,"v":1.3},{"s":61,"t":2019,"v":1.35},{"s":61,"t":2020,"v":1.4},
{"s":62,"t":2005,"v":-0.65},{"s":62,"t":2006,"v":-0.7},{"s":62,"t":2007,"v":-0.75},{"s":62,"t":2008,"v":-0.7},{"s":62,"t":2009,"v":-0.65},{"s":62,"t":2010,"v":-0.6},{"s":62,"t":2011,"v":-0.55},{"s":62,"t":2012,"v":-0.5},{"s":62,"t":2013,"v":0.5},{"s":62,"t":2014,"v":-0.5},{"s":62,"t":2015,"v":0},{"s":62,"t":2016,"v":1},{"s":62,"t":2017,"v":0.4},{"s":62,"t":2018,"v":1.75},{"s":62,"t":2019,"v":1.8},{"s":62,"t":2020,"v":1.85},
{"s":63,"t":2005,"v":-0.45},{"s":63,"t":2006,"v":-0.5},{"s":63,"t":2007,"v":-0.55},{"s":63,"t":2008,"v":-0.6},{"s":63,"t":2009,"v":-0.6},{"s":63,"t":2010,"v":-0.55},{"s":63,"t":2011,"v":-0.5},{"s":63,"t":2012,"v":0.6},{"s":63,"t":2013,"v":-0.3},{"s":63,"t":2014,"v":0.7},{"s":63,"t":2015,"v":0.2},{"s":63,"t":2016,"v":-0.4},{"s":63,"t":2017,"v":1.3},{"s":63,"t":2018,"v":1.6},{"s":63,"t":2019,"v":1.65},{"s":63,"t":2020,"v":1.7},
{"s":64,"t":2005,"v":-0.75},{"s":64,"t":2006,"v":-0.75},{"s":64,"t":2007,"v":-0.7},{"s":64,"t":2008,"v":-0.7},{"s":64,"t":2009,"v":-0.65},{"s":64,"t":2010,"v":-0.65},{"s":64,"t":2011,"v":-0.6},{"s":64,"t":2012,"v":-0.55},{"s":64,"t":2013,"v":-0.45},{"s":64,"t":2014,"v":1},{"s":64,"t":2015,"v":-0.1},{"s":64,"t":2016,"v":0.9},{"s":64,"t":2017,"v":0.6},{"s":64,"t":2018,"v":1.05},{"s":64,"t":2019,"v":1.1},{"s":64,"t":2020,"v":1.1},
{"s":65,"t":2005,"v":-0.85},{"s":65,"t":2006,"v":-0.8},{"s":65,"t":2007,"v":0.2},{"s":65,"t":2008,"v":-0.75},{"s":65,"t":2009,"v":-0.7},{"s":65,"t":2010,"v":-0.7},{"s":65,"t":2011,"v":-0.65},{"s":65,"t":2012,"v":-0.6},{"s":65,"t":2013,"v":-0.5},{"s":65,"t":2014,"v":-0.4},{"s":65,"t":2015,"v":0.9},{"s":65,"t":2016,"v":0.1},{"s":65,"t":2017,"v":1.2},{"s":65,"t":2018,"v":0.8},{"s":65,"t":2019,"v":0.85},{"s":65,"t":2020,"v":0.85},
{"s":66,"t":2005,"v":-0.95},{"s":66,"t":2006,"v":-0.9},{"s":66,"t":2007,"v":-0.85},{"s":66,"t":2008,"v":-0.8},{"s":66,"t":2009,"v":-0.75},{"s":66,"t":2010,"v":-0.7},{"s":66,"t":2011,"v":0.5},{"s":66,"t":2012,"v":-0.6},{"s":66,"t":2013,"v":-0.5},{"s":66,"t":2014,"v":-0.35},{"s":66,"t":2015,"v":-0.15},{"s":66,"t":2016,"v":0.2},{"s":66,"t":2017,"v":0.7},{"s":66,"t":2018,"v":1.5},{"s":66,"t":2019,"v":1.55},{"s":66,"t":2020,"v":1.6},
{"s":67,"t":2005,"v":-0.35},{"s":67,"t":2006,"v":-0.4},{"s":67,"t":2007,"v":-0.45},{"s":67,"t":2008,"v":-0.5},{"s":67,"t":2009,"v":-0.55},{"s":67,"t":2010,"v":-0.5},{"s":67,"t":2011,"v":-0.45},{"s":67,"t":2012,"v":-0.4},{"s":67,"t":2013,"v":1},{"s":67,"t":2014,"v":-0.15},{"s":67,"t":2015,"v":0.05},{"s":67,"t":2016,"v":1.2},{"s":67,"t":2017,"v":1},{"s":67,"t":2018,"v":1.7},{"s":67,"t":2019,"v":1.9},{"s":67,"t":2020,"v":1.95},
{"s":68,"t":2005,"v":-0.6},{"s":68,"t":2006,"v":-0.65},{"s":68,"t":2007,"v":-0.6},{"s":68,"t":2008,"v":-0.55},{"s":68,"t":2009,"v":0.4},{"s":68,"t":2010,"v":-0.45},{"s":68,"t":2011,"v":-0.45},{"s":68,"t":2012,"v":-0.4},{"s":68,"t":2013,"v":-0.35},{"s":68,"t":2014,"v":0.6},{"s":68,"t":2015,"v":-0.05},{"s":68,"t":2016,"v":0.25},{"s":68,"t":2017,"v":0.55},{"s":68,"t":2018,"v":0.65},{"s":68,"t":2019,"v":0.7},{"s":68,"t":2020,"v":0.75},
{"s":69,"t":2005,"v":-0.7},{"s":69,"t":2006,"v":-0.65},{"s":69,"t":2007,"v":-0.6},{"s":69,"t":2008,"v":-0.65},{"s":69,"t":2009,"v":-0.7},{"s":69,"t":2010,"v":-0.65},{"s":69,"t":2011,"v":-0.6},{"s":69,"t":2012,"v":0.3},{"s":69,"t":2013,"v":-0.45},{"s":69,"t":2014,"v":-0.3},{"s":69,"t":2015,"v":1.1},{"s":69,"t":2016,"v":0.1},{"s":69,"t":2017,"v":0.4},{"s":69,"t":2018,"v":1.2},{"s":69,"t":2019,"v":1.25},{"s":69,"t":2020,"v":1.3},
{"s":70,"t":2005,"v":-0.5},{"s":70,"t":2006,"v":-0.45},{"s":70,"t":2007,"v":-0.5},{"s":70,"t":2008,"v":-0.55},{"s":70,"t":2009,"v":-0.6},{"s":70,"t":2010,"v":0.7},{"s":70,"t":2011,"v":-0.55},{"s":70,"t":2012,"v":-0.5},{"s":70,"t":2013,"v":-0.4},{"s":70,"t":2014,"v":-0.25},{"s":70,"t":2015,"v":0},{"s":70,"t":2016,"v":0.4},{"s":70,"t":2017,"v":1.4},{"s":70,"t":2018,"v":1.85},{"s":70,"t":2019,"v":1.85},{"s":70,"t":2020,"v":1.8},
{"s":71,"t":2005,"v":-0.8},{"s":71,"t":2006,"v":-0.75},{"s":71,"t":2007,"v":-0.7},{"s":71,"t":2008,"v":-0.6},{"s":71,"t":2009,"v":-0.55},{"s":71,"t":2010,"v":-0.6},{"s":71,"t":2011,"v":-0.6},{"s":71,"t":2012,"v":-0.55},{"s":71,"t":2013,"v":0.7},{"s":71,"t":2014,"v":0.3},{"s":71,"t":2015,"v":-0.3},{"s":71,"t":2016,"v":-0.1},{"s":71,"t":2017,"v":1.5},{"s":71,"t":2018,"v":1},{"s":71,"t":2019,"v":1.05},{"s":71,"t":2020,"v":1},
{"s":72,"t":2005,"v":-1.05},{"s":72,"t":2006,"v":0.3},{"s":72,"t":2007,"v":-0.85},{"s":72,"t":2008,"v":0.6},{"s":72,"t":2009,"v":-0.75},{"s":72,"t":2010,"v":-0.75},{"s":72,"t":2011,"v":-0.7},{"s":72,"t":2012,"v":-0.65},{"s":72,"t":2013,"v":-0.55},{"s":72,"t":2014,"v":-0.45},{"s":72,"t":2015,"v":-0.3},{"s":72,"t":2016,"v":0},{"s":72,"t":2017,"v":0.35},{"s":72,"t":2018,"v":0.9},{"s":72,"t":2019,"v":1},{"s":72,"t":2020,"v":1.05},
{"s":73,"t":2005,"v":-0.4},{"s":73,"t":2006,"v":-0.35},{"s":73,"t":2007,"v":-0.3},{"s":73,"t":2008,"v":-0.35},{"s":73,"t":2009,"v":-0.4},{"s":73,"t":2010,"v":-0.35},{"s":73,"t":2011,"v":-0.3},{"s":73,"t":2012,"v":-0.25},{"s":73,"t":2013,"v":-0.15},{"s":73,"t":2014,"v":0},{"s":73,"t":2015,"v":0.2},{"s":73,"t":2016,"v":0.45},{"s":73,"t":2017,"v":0.9},{"s":73,"t":2018,"v":1.4},{"s":73,"t":2019,"v":1.5},{"s":73,"t":2020,"v":1.55},
{"s":74,"t":2005,"v":-0.65},{"s":74,"t":2006,"v":-0.6},{"s":74,"t":2007,"v":-0.55},{"s":74,"t":2008,"v":-0.5},{"s":74,"t":2009,"v":-0.5},{"s":74,"t":2010,"v":-0.5},{"s":74,"t":2011,"v":-0.45},{"s":74,"t":2012,"v":-0.4},{"s":74,"t":2013,"v":-0.3},{"s":74,"t":2014,"v":1.2},{"s":74,"t":2015,"v":0.05},{"s":74,"t":2016,"v":0.3},{"s":74,"t":2017,"v":0.75},{"s":74,"t":2018,"v":1.95},{"s":74,"t":2019,"v":2},{"s":74,"t":2020,"v":2.05},
{"s":75,"t":2005,"v":0.4},{"s":75,"t":2006,"v":0.3},{"s":75,"t":2007,"v":0.1},{"s":75,"t":2008,"v":-0.1},{"s":75,"t":2009,"v":-0.2},{"s":75,"t":2010,"v":-0.2},{"s":75,"t":2011,"v":-0.15},{"s":75,"t":2012,"v":-0.1},{"s":75,"t":2013,"v":0},{"s":75,"t":2014,"v":0.2},{"s":75,"t":2015,"v":0.4},{"s":75,"t":2016,"v":0.6},{"s":75,"t":2017,"v":0.9},{"s":75,"t":2018,"v":1.25},{"s":75,"t":2019,"v":1.3},{"s":75,"t":2020,"v":1.35},
{"s":76,"t":2005,"v":-0.9},{"s":76,"t":2006,"v":-0.85},{"s":76,"t":2007,"v":-0.8},{"s":76,"t":2008,"v":-0.75},{"s":76,"t":2009,"v":-0.7},{"s":76,"t":2010,"v":-0.65},{"s":76,"t":2011,"v":-0.6},{"s":76,"t":2012,"v":-0.5},{"s":76,"t":2013,"v":-0.35},{"s":76,"t":2014,"v":-0.2},{"s":76,"t":2015,"v":-0.9},{"s":76,"t":2016,"v":0.3},{"s":76,"t":2017,"v":0.6},{"s":76,"t":2018,"v":0.7},{"s":76,"t":2019,"v":0.75},{"s":76,"t":2020,"v":0.8},
{"s":77,"t":2005,"v":-0.55},{"s":77,"t":2006,"v":0.8},{"s":77,"t":2007,"v":-0.45},{"s":77,"t":2008,"v":-0.45},{"s":77,"t":2009,"v":-0.45},{"s":77,"t":2010,"v":-0.4},{"s":77,"t":2011,"v":-0.35},{"s":77,"t":2012,"v":-0.3},{"s":77,"t":2013,"v":-0.2},{"s":77,"t":2014,"v":-0.05},{"s":77,"t":2015,"v":0.15},{"s":77,"t":2016,"v":0.35},{"s":77,"t":2017,"v":0.7},{"s":77,"t":2018,"v":1.55},{"s":77,"t":2019,"v":1.6},{"s":77,"t":2020,"v":1.65},
{"s":78,"t":2005,"v":-0.75},{"s":78,"t":2006,"v":-0.8},{"s":78,"t":2007,"v":-0.8},{"s":78,"t":2008,"v":-0.75},{"s":78,"t":2009,"v":-0.7},{"s":78,"t":2010,"v":-0.7},{"s":78,"t":2011,"v":-0.65},{"s":78,"t":2012,"v":-0.6},{"s":78,"t":2013,"v":-0.55},{"s":78,"t":2014,"v":-0.45},{"s":78,"t":2015,"v":0.5},{"s":78,"t":2016,"v":-0.05},{"s":78,"t":2017,"v":0.25},{"s":78,"t":2018,"v":0.45},{"s":78,"t":2019,"v":0.45},{"s":78,"t":2020,"v":0.4},
{"s":79,"t":2005,"v":-1.15},{"s":79,"t":2006,"v":-1.05},{"s":79,"t":2007,"v":0.5},{"s":79,"t":2008,"v":-0.9},{"s":79,"t":2009,"v":-0.85},{"s":79,"t":2010,"v":-0.8},{"s":79,"t":2011,"v":-0.75},{"s":79,"t":2012,"v":-0.7},{"s":79,"t":2013,"v":-0.6},{"s":79,"t":2014,"v":-0.5},{"s":79,"t":2015,"v":-0.35},{"s":79,"t":2016,"v":-0.1},{"s":79,"t":2017,"v":0.3},{"s":79,"t":2018,"v":1.1},{"s":79,"t":2019,"v":1.15},{"s":79,"t":2020,"v":1.2},
{"s":80,"t":2005,"v":-0.6},{"s":80,"t":2006,"v":-0.55},{"s":80,"t":2007,"v":-0.5},{"s":80,"t":2008,"v":-0.45},{"s":80,"t":2009,"v":-0.45},{"s":80,"t":2010,"v":-0.45},{"s":80,"t":2011,"v":-0.4},{"s":80,"t":2012,"v":-0.35},{"s":80,"t":2013,"v":-0.25},{"s":80,"t":2014,"v":-0.1},{"s":80,"t":2015,"v":0.1},{"s":80,"t":2016,"v":0.55},{"s":80,"t":2017,"v":1.15},{"s":80,"t":2018,"v":1.25},{"s":80,"t":2019,"v":1.3},{"s":80,"t":2020,"v":1.45}
    ],
    "mittel": [
{"t":2005,"v":-0.44},{"t":2006,"v":-0.31},{"t":2007,"v":-0.2},{"t":2008,"v":-0.32},{"t":2009,"v":-0.4},{"t":2010,"v":-0.33},{"t":2011,"v":-0.24},{"t":2012,"v":-0.24},{"t":2013,"v":-0.05},{"t":2014,"v":0.06},{"t":2015,"v":0.12},{"t":2016,"v":0.25},{"t":2017,"v":0.52},{"t":2018,"v":0.72},{"t":2019,"v":0.88},{"t":2020,"v":0.87}
    ]
  },
  "layer": [
    {
      "data": {"name": "reihen"},
      "mark": {"type": "line", "color": "#d6d6d6", "strokeWidth": 2},
      "encoding": {
        "x": {
          "field": "t", "type": "quantitative",
          "scale": {"domain": [2004.505, 2020.371], "nice": false, "zero": false},
          "axis": {
            "values": [2005, 2006, 2007, 2008, 2009, 2010, 2011, 2012, 2013, 2014, 2015, 2016, 2017, 2018, 2019, 2020],
            "format": "d", "labelAngle": -90, "labelAlign": "right", "labelBaseline": "middle",
            "labelPadding": 13, "ticks": false, "domain": false, "grid": false,
            "labelFontSize": 18, "labelColor": "#a6a6a6", "title": null
          }
        },
        "y": {
          "field": "v", "type": "quantitative",
          "scale": {"domain": [-3, 3.525], "nice": false, "zero": false},
          "title": "Standardabweichungen",
          "axis": {
            "values": [-3, -2, -1, 0, 1, 2, 3],
            "labelExpr": "'' + datum.value",
            "grid": true,
            "gridColor": {"condition": {"test": "datum.value === 0", "value": "#6e6e6e"}, "value": "#e6e6e6"},
            "gridWidth": 1,
            "domain": false, "ticks": false, "labelPadding": 17,
            "labelFontSize": 15, "labelColor": "#a6a6a6",
            "titleFontSize": 16.5, "titleFontWeight": "normal", "titleColor": "#a6a6a6",
            "titleX": -57, "titleY": 323, "titleAngle": -90,
            "titleAlign": "center", "titleBaseline": "middle"
          }
        },
        "detail": {"field": "s", "type": "nominal"}
      }
    },
    {
      "data": {"name": "mittel"},
      "mark": {"type": "line", "color": "#44546a", "strokeWidth": 6.5, "strokeCap": "round", "interpolate": "monotone"},
      "encoding": {
        "x": {"field": "t", "type": "quantitative", "title": null},
        "y": {"field": "v", "type": "quantitative", "title": "Standardabweichungen"}
      }
    }
  ]
}
